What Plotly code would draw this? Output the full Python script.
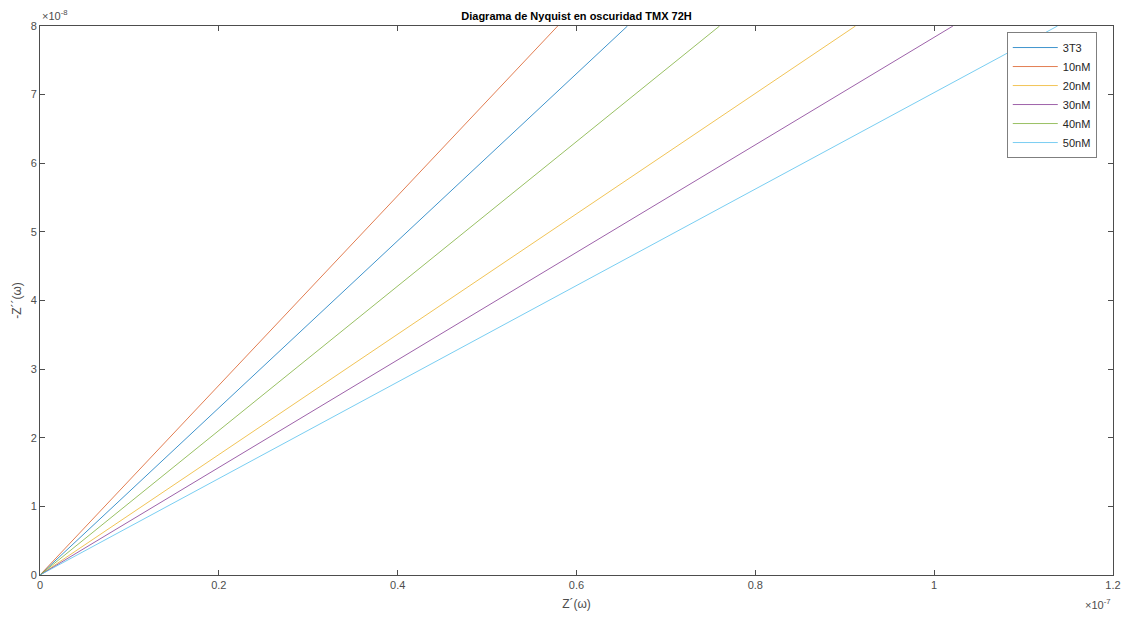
import plotly.graph_objects as go

# Data (Z' and -Z'')
series_names = ["3T3", "10nM", "20nM", "30nM", "40nM", "50nM"]
z_real = {
    "3T3":  [0.0, 0.657e-7],
    "10nM": [0.0, 0.579e-7],
    "20nM": [0.0, 0.912e-7],
    "30nM": [0.0, 1.021e-7],
    "40nM": [0.0, 0.760e-7],
    "50nM": [0.0, 1.138e-7],
}
z_imag = {
    "3T3":  [0.0, 8.0e-8],
    "10nM": [0.0, 8.0e-8],
    "20nM": [0.0, 8.0e-8],
    "30nM": [0.0, 8.0e-8],
    "40nM": [0.0, 8.0e-8],
    "50nM": [0.0, 8.0e-8],
}
colors = ["#0072BD", "#D95319", "#EDB120", "#7E2F8E", "#77AC30", "#4DBEEE"]

x_ticks = [0, 0.2e-7, 0.4e-7, 0.6e-7, 0.8e-7, 1.0e-7, 1.2e-7]
x_ticklabels = ["0", "0.2", "0.4", "0.6", "0.8", "1", "1.2"]
y_ticks = [i * 1e-8 for i in range(9)]
y_ticklabels = [str(i) for i in range(9)]

FONT = "Liberation Sans, Arial, sans-serif"
AX = "#4d4d4d"

fig = go.Figure()
for name, c in zip(series_names, colors):
    fig.add_trace(go.Scatter(x=z_real[name], y=z_imag[name], mode="lines", name=name,
                             line=dict(color=c, width=1), opacity=0.75))

fig.update_layout(
    width=1125, height=617,
    margin=dict(l=40, r=12, t=26, b=42, autoexpand=False),
    plot_bgcolor="white", paper_bgcolor="white",
    font=dict(family=FONT, size=12, color=AX),
    title=dict(text="<b>Diagrama de Nyquist en oscuridad TMX 72H</b>",
               x=(40 + 1113) / 2 / 1125, xanchor="center", y=1 - 16 / 617, yanchor="middle",
               font=dict(size=11, color="black", family=FONT)),
    showlegend=True,
    legend=dict(x=0.901, y=0.989, xanchor="left", yanchor="top",
                bgcolor="white", bordercolor="#7f7f7f", borderwidth=1,
                font=dict(size=11, color="#262626", family=FONT),
                itemwidth=45, tracegroupgap=0),
)
fig.update_xaxes(range=[0, 1.2e-7], tickvals=x_ticks, ticktext=x_ticklabels, automargin=False,
                 ticks="inside", ticklen=5, tickcolor=AX, showgrid=False, zeroline=False,
                 showline=True, linecolor=AX, linewidth=1, mirror="ticks",
                 tickfont=dict(size=11, color=AX),
                 title=dict(text="Z´(ω)", font=dict(size=12, color=AX), standoff=9))
fig.update_yaxes(range=[0, 8e-8], tickvals=y_ticks, ticktext=y_ticklabels, automargin=False,
                 ticks="inside", ticklen=5, tickcolor=AX, showgrid=False, zeroline=False,
                 showline=True, linecolor=AX, linewidth=1, mirror="ticks",
                 tickfont=dict(size=11, color=AX),
                 title=dict(text="-Z´´(ω)", font=dict(size=12, color=AX), standoff=6))

fig.add_annotation(text="×10<sup>-8</sup>", xref="paper", yref="paper", x=0, y=1,
                   xanchor="left", yanchor="bottom", showarrow=False,
                   font=dict(size=11, color=AX), yshift=2)
fig.add_annotation(text="×10<sup>-7</sup>", xref="paper", yref="paper", x=1, y=0,
                   xanchor="right", yanchor="top", showarrow=False,
                   font=dict(size=11, color=AX), yshift=-20)

fig.write_html("out.html")
